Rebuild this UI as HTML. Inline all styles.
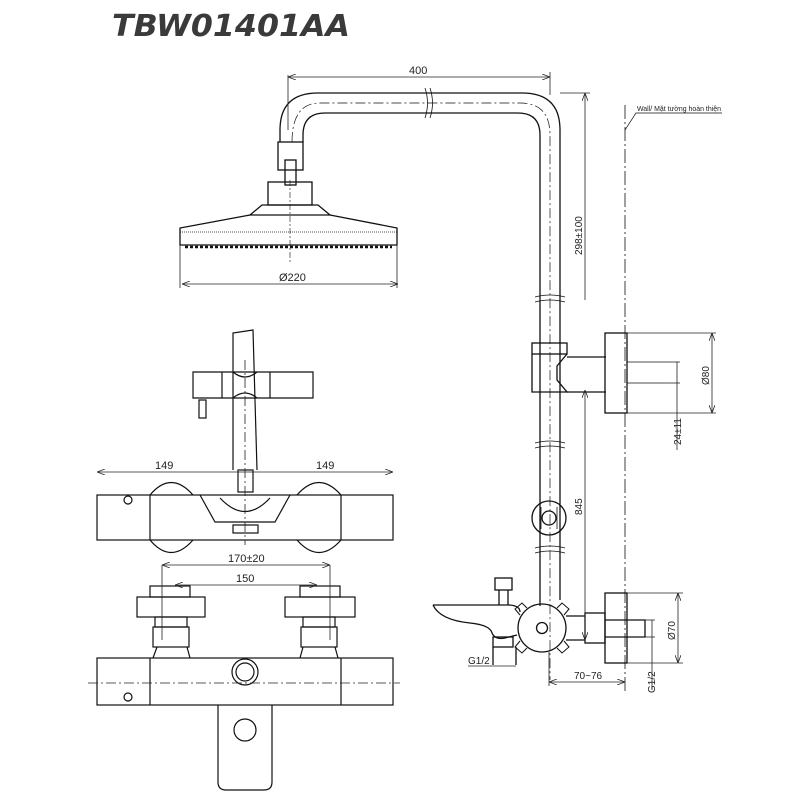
<!DOCTYPE html>
<html><head><meta charset="utf-8"><style>
html,body{margin:0;padding:0;background:#fff;width:800px;height:800px;overflow:hidden}
svg{display:block}
text{font-family:"Liberation Sans",sans-serif;fill:#222}
</style></head><body>
<svg width="800" height="800" viewBox="0 0 800 800" xmlns="http://www.w3.org/2000/svg">
<defs>
<marker id="a" markerWidth="8" markerHeight="6" refX="8" refY="3" orient="auto-start-reverse" markerUnits="userSpaceOnUse"><path d="M0,0 L8,3 L0,6" fill="none" stroke="#222" stroke-width="0.8"/></marker>
</defs>
<text x="112" y="36" font-size="30" font-weight="bold" font-style="italic" textLength="238" lengthAdjust="spacingAndGlyphs" style="fill:#3a3a3a;font-family:'DejaVu Sans',sans-serif">TBW01401AA</text>

<g fill="none" stroke="#111" stroke-width="1.3">
<path d="M280,142 L280,130 Q280,93 318,93 L522,93 Q560,93 560,130 L560,600"/>
<path d="M303,142 L303,135 Q303,113 325,113 L518,113 Q540,113 540,135 L540,606"/>
<path d="M292,142 Q292,103 320,103 L520,103 Q550,103 550,135 L550,680" stroke-dasharray="10,3,2,3" stroke-width="0.7"/>
<rect x="278" y="142" width="25" height="28"/>
<rect x="285" y="160" width="11" height="25"/>
<rect x="268" y="182" width="44" height="23"/>
<path d="M262,205 L318,205 L330,215 L250,215 Z"/>
<path d="M250,215 L180,228 L180,245 L397,245 L397,228 L330,215"/>
<path d="M180,232 L397,232" stroke-dasharray="1,1" stroke-width="0.8"/>
<path d="M185,247 L392,247" stroke-dasharray="3,2" stroke-width="2.5"/>
<line x1="290" y1="180" x2="290" y2="262" stroke-dasharray="6,2,2,2" stroke-width="0.6"/>
<path d="M425,88 Q430,103 425,118 M430,88 Q435,103 430,118" stroke-width="0.8"/>
<path d="M535,297 Q550,293 565,297 M535,302 Q550,298 565,302" stroke-width="0.8"/>
<path d="M535,443 Q550,439 565,443 M535,448 Q550,444 565,448" stroke-width="0.8"/>
<path d="M535,548 Q550,544 565,548 M535,553 Q550,549 565,553" stroke-width="0.8"/>
<rect x="532" y="343" width="35" height="11"/>
<path d="M532,354 L532,392 L567,392 L557,380 L557,366 L567,354"/>
<path d="M567,357 L606,357 M567,392 L606,392"/>
<rect x="605" y="333" width="22" height="80"/>
<path d="M627,362 L665,362 M627,383 L665,383" stroke-width="0.8"/>
<circle cx="549" cy="518" r="17"/>
<circle cx="549" cy="518" r="7"/>
<path d="M541,507 L541,529 M557,507 L557,529" stroke-width="0.8"/>
<circle cx="542" cy="628" r="24"/>
<circle cx="542" cy="628" r="5.5"/>
<path d="M520,615 L515,609 L522,603 L527,608 M564,615 L569,609 L562,603 L557,608 M520,641 L515,647 L522,653 L527,648 M564,641 L569,647 L562,653 L557,648" stroke-width="1"/>
<path d="M566,616 L585,616 M566,640 L585,640"/>
<rect x="585" y="613" width="20" height="30"/>
<path d="M605,620 L645,620 L645,637 L605,637"/>
<rect x="605" y="593" width="22" height="70"/>
<path d="M433,605 L510,605 Q520,606 520,612 M433,605 Q440,620 470,623 Q490,625 492,633 Q495,640 505,638 L517,635"/>
<rect x="495" y="578" width="17" height="12"/>
<path d="M499,590 L499,605 M508,590 L508,605"/>
<rect x="493" y="637" width="20" height="10"/>
<path d="M493,647 L493,665 M516,647 L516,665"/>
<line x1="625" y1="105" x2="625" y2="692" stroke-dasharray="14,3,2,3" stroke-width="0.8"/>
<path d="M625,130 L636,113 L722,113" stroke-width="0.7"/>
</g>

<g stroke="#222" stroke-width="0.8" fill="none">
<line x1="288" y1="77" x2="550" y2="77" marker-start="url(#a)" marker-end="url(#a)"/>
<line x1="288" y1="75" x2="288" y2="130"/><line x1="550" y1="72" x2="550" y2="95"/>
<line x1="182" y1="284" x2="398" y2="284" marker-start="url(#a)" marker-end="url(#a)"/>
<line x1="180" y1="245" x2="180" y2="288"/><line x1="397" y1="245" x2="397" y2="288"/>
<line x1="560" y1="93" x2="590" y2="93"/>
<line x1="585" y1="93" x2="585" y2="300" marker-start="url(#a)"/>
<line x1="585" y1="390" x2="585" y2="640" marker-start="url(#a)" marker-end="url(#a)"/>
<line x1="627" y1="333" x2="716" y2="333"/><line x1="627" y1="413" x2="716" y2="413"/>
<line x1="712" y1="333" x2="712" y2="413" marker-start="url(#a)" marker-end="url(#a)"/>
<line x1="665" y1="362" x2="680" y2="362"/><line x1="665" y1="383" x2="680" y2="383"/>
<line x1="677" y1="362" x2="677" y2="450" />
<line x1="627" y1="593" x2="683" y2="593"/><line x1="627" y1="663" x2="683" y2="663"/>
<line x1="678" y1="593" x2="678" y2="663" marker-start="url(#a)" marker-end="url(#a)"/>
<line x1="645" y1="620" x2="655" y2="620"/><line x1="645" y1="637" x2="655" y2="637"/>
<line x1="652" y1="620" x2="652" y2="690"/>
<line x1="549" y1="652" x2="549" y2="686"/>
<line x1="549" y1="682" x2="625" y2="682" marker-start="url(#a)" marker-end="url(#a)"/>
<line x1="468" y1="666" x2="516" y2="666" />
</g>
<text x="409" y="74" font-size="11">400</text>
<text x="279" y="281" font-size="11">Ø220</text>
<text x="637" y="111" font-size="7.5" textLength="84" lengthAdjust="spacingAndGlyphs">Wall/ Mặt tường hoàn thiện</text>
<text transform="translate(582,255) rotate(-90)" font-size="10">298±100</text>
<text transform="translate(709,385) rotate(-90)" font-size="10">Ø80</text>
<text transform="translate(681,445) rotate(-90)" font-size="10">24±11</text>
<text transform="translate(582,515) rotate(-90)" font-size="10">845</text>
<text transform="translate(675,640) rotate(-90)" font-size="10">Ø70</text>
<text transform="translate(655,693) rotate(-90)" font-size="10">G1/2</text>
<text x="468" y="664" font-size="10">G1/2</text>
<text x="574" y="679" font-size="10">70~76</text>

<g fill="none" stroke="#111" stroke-width="1.2">
<path d="M233,470 L233,333 L253,330 L257,470"/>
<path d="M193,372 L313,372 L313,398 L193,398 Z"/>
<path d="M222,372 L222,398 M270,372 L270,398"/>
<path d="M233,372 Q245,382 257,372 M233,398 Q245,388 257,398"/>
<rect x="199" y="400" width="7" height="18"/>
<rect x="238" y="470" width="15" height="22"/>
<rect x="97" y="495" width="296" height="45"/>
<path d="M150,495 Q171,470 193,495 M150,540 Q171,565 193,540"/>
<path d="M297,495 Q319,470 341,495 M297,540 Q319,565 341,540"/>
<path d="M150,495 L150,540 M341,495 L341,540"/>
<path d="M200,495 L215,522 L275,522 L290,495 M220,498 Q245,525 270,498"/>
<rect x="233" y="525" width="25" height="8"/>
<circle cx="128" cy="500" r="4"/>
<rect x="137" y="597" width="68" height="20"/>
<rect x="150" y="586" width="40" height="11"/>
<rect x="285" y="597" width="70" height="20"/>
<rect x="300" y="586" width="40" height="11"/>
<rect x="155" y="617" width="32" height="10"/><rect x="153" y="627" width="36" height="20"/>
<rect x="303" y="617" width="32" height="10"/><rect x="301" y="627" width="36" height="20"/>
<path d="M157,647 L153,658 M187,647 L190,658 M303,647 L300,658 M335,647 L338,658"/>
<rect x="97" y="658" width="296" height="47"/>
<path d="M150,658 L150,705 M341,658 L341,705"/>
<circle cx="245" cy="672" r="13"/><circle cx="245" cy="672" r="9"/>
<path d="M218,705 L218,782 Q218,790 226,790 L264,790 Q272,790 272,782 L272,705"/>
<circle cx="245" cy="730" r="11"/>
<circle cx="128" cy="697" r="4"/>
</g>
<g stroke="#222" stroke-width="0.8" fill="none">
<line x1="97" y1="472" x2="393" y2="472" marker-start="url(#a)" marker-end="url(#a)"/>
<line x1="162" y1="565" x2="330" y2="565" marker-start="url(#a)" marker-end="url(#a)"/>
<line x1="175" y1="585" x2="317" y2="585" marker-start="url(#a)" marker-end="url(#a)"/>
<line x1="162" y1="565" x2="162" y2="640"/><line x1="330" y1="565" x2="330" y2="640"/>
<line x1="88" y1="683" x2="400" y2="683" stroke-dasharray="10,3,2,3"/>
<line x1="245" y1="360" x2="245" y2="545" stroke-dasharray="10,3,2,3"/>
</g>
<text x="155" y="469" font-size="11">149</text>
<text x="316" y="469" font-size="11">149</text>
<text x="228" y="562" font-size="11">170±20</text>
<text x="236" y="582" font-size="11">150</text>
</svg>
</body></html>
